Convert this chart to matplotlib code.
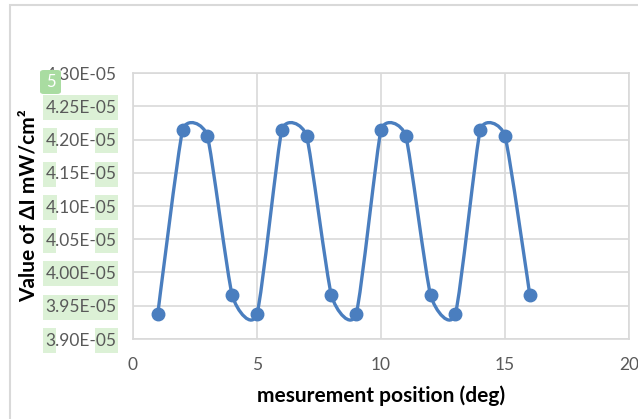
"""
Periodic Delta-I measurement chart (Excel look, smoothed line).
Output: out.png
"""

import numpy as np
import matplotlib
matplotlib.use("Agg")
import matplotlib.pyplot as plt
from matplotlib.path import Path
from matplotlib.patches import PathPatch, Rectangle, FancyBboxPatch

# data
positions = [1, 2, 3, 4, 5, 6, 7, 8, 9, 10, 11, 12, 13, 14, 15, 16]
delta_i = [3.938e-05, 4.214e-05, 4.205e-05, 3.966e-05,
           3.938e-05, 4.214e-05, 4.205e-05, 3.966e-05,
           3.938e-05, 4.214e-05, 4.205e-05, 3.966e-05,
           3.938e-05, 4.214e-05, 4.205e-05, 3.966e-05]
y_ticks = [3.90e-05, 3.95e-05, 4.00e-05, 4.05e-05, 4.10e-05,
           4.15e-05, 4.20e-05, 4.25e-05, 4.30e-05]
x_ticks = [0, 5, 10, 15, 20]
# which tick labels carry a green highlight: "full", "ends" or None
highlight = {3.90e-05: "ends", 3.95e-05: "full", 4.00e-05: "full",
             4.05e-05: "ends", 4.10e-05: "ends", 4.15e-05: "ends",
             4.20e-05: "ends", 4.25e-05: "full", 4.30e-05: None}

W, H = 638, 419
LINE = "#4a7ebf"
GRID = "#d9d9d9"
TXT = "#595959"
HL = "#dcf1d6"

plt.rcParams["font.family"] = ["Lato", "DejaVu Sans"]

fig = plt.figure(figsize=(W / 100, H / 100), dpi=100)
fig.subplots_adjust(left=133 / W, right=629 / W, bottom=1 - 339 / H, top=1 - 73 / H)
ax = fig.add_subplot(111)

ax.set_xlim(0, 20)
ax.set_ylim(3.90e-05, 4.30e-05)
ax.set_xticks(x_ticks)
ax.set_yticks(y_ticks)
ax.set_xticklabels([str(v) for v in x_ticks])
ax.set_yticklabels(["%.2E" % v for v in y_ticks])
ax.tick_params(length=0, colors=TXT, labelsize=12.5)
ax.tick_params(axis="y", pad=12)
ax.tick_params(axis="x", pad=13)
ax.grid(True, color=GRID, linewidth=1.2)
ax.set_axisbelow(True)
for sp in ax.spines.values():
    sp.set_color(GRID)
    sp.set_linewidth(1.2)


def excel_smooth(ax, xs, ys, k=0.55):
    """Bezier path through the points; tangent along neighbour chord,
    length tied to the shorter adjacent segment (worked out in pixels)."""
    pts = ax.transData.transform(np.column_stack([xs, ys]))
    n = len(pts)

    def ctrl(i, nxt):
        # control handle at point i, pointing towards neighbour nxt (+1 / -1)
        if i == 0 or i == n - 1:
            return pts[i]
        chord = pts[i + 1] - pts[i - 1]
        chord = chord / np.hypot(*chord)
        d_prev = np.hypot(*(pts[i] - pts[i - 1]))
        d_next = np.hypot(*(pts[i + 1] - pts[i]))
        return pts[i] + nxt * chord * k * min(d_prev, d_next)

    verts = [pts[0]]
    codes = [Path.MOVETO]
    for i in range(n - 1):
        verts += [ctrl(i, 1), ctrl(i + 1, -1), pts[i + 1]]
        codes += [Path.CURVE4] * 3
    verts = ax.transData.inverted().transform(np.array(verts))
    return Path(verts, codes)


ax.add_patch(PathPatch(excel_smooth(ax, positions, delta_i), facecolor="none",
                       edgecolor=LINE, linewidth=2.4, capstyle="round", zorder=3))
ax.plot(positions, delta_i, linestyle="none", marker="o", markersize=9,
        color=LINE, zorder=4)

ax.set_xlabel("mesurement position (deg)", fontsize=15, fontweight="bold",
              color="black", labelpad=9)
ax.set_ylabel("Value of \u0394I mW/cm\u00b2", fontsize=15, fontweight="bold",
              color="black", labelpad=5)

# green highlights behind the y tick labels
fig.canvas.draw()
renderer = fig.canvas.get_renderer()
for lab, val in zip(ax.get_yticklabels(), y_ticks):
    kind = highlight.get(val)
    if kind is None:
        continue
    bb = lab.get_window_extent(renderer)
    cy = (bb.y0 + bb.y1) / 2
    h = 25
    x0, x1 = bb.x0 - 2, bb.x1 + 2
    spans = [(x0, x1)]
    if kind == "ends":
        prop = lab.get_fontproperties()
        w1, _, _ = renderer.get_text_width_height_descent(lab.get_text()[0], prop, ismath=False)
        w2, _, _ = renderer.get_text_width_height_descent(lab.get_text()[-2:], prop, ismath=False)
        spans = [(x0, bb.x0 + w1 + 1), (bb.x1 - w2 - 1, x1)]
    for a, b in spans:
        fig.patches.append(Rectangle((a / W, (cy - h / 2) / H), (b - a) / W, h / H,
                                     transform=fig.transFigure, facecolor=HL,
                                     edgecolor="none", zorder=-2))

# small numbered badge near the top label
fig.patches.append(FancyBboxPatch((40 / W, (H - 94) / H), 21 / W, 24 / H,
                                  boxstyle="round,pad=0,rounding_size=0.006",
                                  transform=fig.transFigure, facecolor="#a9dca1",
                                  edgecolor="none", zorder=5))
fig.text(50.5 / W, (H - 82) / H, "5", color="white", fontsize=12,
         ha="center", va="center", zorder=6)

# chart area border (cropped on right and bottom)
fig.patches.append(Rectangle((9.5 / W, -0.1), 1.2, 1.1 - 5 / H,
                             transform=fig.transFigure, facecolor="none",
                             edgecolor=GRID, linewidth=1.5, zorder=-3))

fig.savefig("out.png", dpi=100)
